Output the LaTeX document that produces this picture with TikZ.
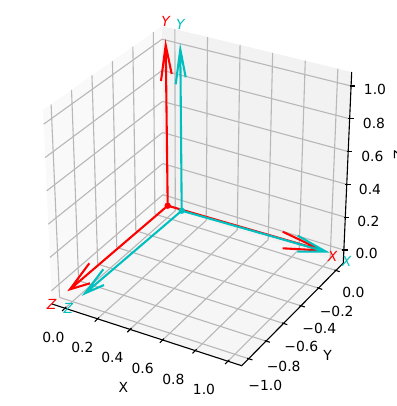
\documentclass[tikz,border=0pt]{standalone}
\usepackage{fontspec}
\setmainfont{DejaVu Sans}
\usetikzlibrary{calc}
\definecolor{mplred}{rgb}{1,0,0}
\definecolor{mplcyan}{rgb}{0,0.75,0.75}
\definecolor{gridgray}{HTML}{B8B8B8}
\definecolor{panex}{rgb}{0.975,0.975,0.975}
\definecolor{paney}{rgb}{0.95,0.95,0.95}
\definecolor{panez}{rgb}{0.9625,0.9625,0.9625}

\begin{document}
\begin{tikzpicture}[
    x=0.72pt, y=-0.72pt,
    gridline/.style={draw=gridgray, line width=0.8pt},
    axline/.style={draw=black, line width=0.8pt},
    ticklab/.style={font=\fontsize{10}{12}\selectfont, inner sep=0pt},
    framelab/.style={font=\fontsize{10}{12}\selectfont\itshape, inner sep=0pt},
    quiv/.style={line width=1.5pt}
  ]
  \useasboundingbox (0,0) rectangle (396,406);

  % Box corners (bottom and top).
  \coordinate (L) at (52,304);
  \coordinate (F) at (241.7,365.7);
  \coordinate (R) at (343.3,263);
  \coordinate (B) at (163,207);
  \coordinate (Lt) at (43,110);
  \coordinate (Bt) at (162,26);
  \coordinate (Rt) at (351.7,72);

  % Panes.
  \fill[panex] (L) -- (B) -- (Bt) -- (Lt) -- cycle;
  \fill[paney] (B) -- (R) -- (Rt) -- (Bt) -- cycle;
  \fill[panez] (L) -- (F) -- (R) -- (B) -- cycle;

  % Grid lines at the ticks.
  \foreach \s in {0.068,0.2398,0.4116,0.5834,0.7552,0.927} {
    \draw[gridline] ($(L)!\s!(B)$) -- ($(Lt)!\s!(Bt)$);
    \draw[gridline] ($(L)!\s!(Lt)$) -- ($(B)!\s!(Bt)$);
    \draw[gridline] ($(B)!\s!(R)$) -- ($(Bt)!\s!(Rt)$);
    \draw[gridline] ($(B)!\s!(Bt)$) -- ($(R)!\s!(Rt)$);
    \draw[gridline] ($(L)!\s!(F)$) -- ($(B)!\s!(R)$);
    \draw[gridline] ($(L)!\s!(B)$) -- ($(F)!\s!(R)$);
  }

  % Axis lines and tick marks.
  \draw[axline] (L) -- (F) -- (R) -- (Rt);
  \foreach \s in {0.068,0.2398,0.4116,0.5834,0.7552,0.927} {
    \draw[axline] ($(L)!\s!(F)$) ++(1.4,-1.4) -- ++(-4.2,4.2);
    \draw[axline] ($(F)!\s!(R)$) ++(-1.4,-0.5) -- ++(5.2,1.7);
    \draw[axline] ($(R)!\s!(Rt)$) ++(-1.5,0) -- ++(5.5,0);
  }

  % Tick labels.
  \foreach \t/\px/\py [count=\i] in {0.0/53.3/337.7, 0.2/82.3/347.7,
      0.4/112.3/357.7, 0.6/142.7/368.3, 0.8/173.3/379, 1.0/204/389.5}
    \node[ticklab] (xt\i) at (\px,\py) {\t};
  \foreach \t/\px/\py [count=\i] in {0.0/353.3/292.7, −0.2/336.7/311,
      −0.4/319.3/328.3, −0.6/301.3/346.7, −0.8/283.7/366.7, −1.0/265.3/385}
    \node[ticklab] (yt\i) at (\px,\py) {\t};
  \foreach \t/\px/\py [count=\i] in {0.0/366.7/253.3, 0.2/368.3/221.7,
      0.4/370/189.3, 0.6/372.3/156.7, 0.8/374/123.3, 1.0/375/89.3}
    \node[ticklab] (zt\i) at (\px,\py) {\t};

  % Axis labels.
  \node[ticklab] (xlab) at (123.3,387.7) {X};
  \node[ticklab] (ylab) at (327.7,355) {Y};
  \node[ticklab,rotate=90] (zlab) at (399,155) {Z};

  % Helper macro: shaft and open head of one arrow.
  \def\qv#1#2#3#4{ \draw[quiv] (#1) -- (#2) (#3) -- (#2) -- (#4); }

  % Red frame.
  \coordinate (ro) at (167.7,205.7);
  \coordinate (rx) at (322.5,250.5);
  \coordinate (ry) at (165.7,45);
  \coordinate (rz) at (70,289.3);
  \begin{scope}[mplred]
    \qv{ro}{rx}{282.7,231.7}{282.7,248.3}
    \qv{ro}{ry}{161,81}{171.7,74}
    \qv{ro}{rz}{89.3,263.3}{90,283.3}
    \fill (ro) circle[radius=2.3pt];
    \node[framelab,text=mplred] (rxl) at (332.7,256) {X};
    \node[framelab,text=mplred] (ryl) at (165.7,21.7) {Y};
    \node[framelab,text=mplred] (rzl) at (51.7,304) {Z};
  \end{scope}

  % Cyan frame.
  \coordinate (co) at (181.7,210.7);
  \coordinate (cx) at (326,251.7);
  \coordinate (cy) at (180.3,49.3);
  \coordinate (cz) at (85,293.3);
  \begin{scope}[mplcyan]
    \qv{co}{cx}{297.7,235.7}{297.3,251.7}
    \qv{co}{cy}{175.7,84.3}{185.7,77.3}
    \qv{co}{cz}{103.3,269.3}{104,285}
    \fill (co) circle[radius=2.3pt];
    \node[framelab,text=mplcyan] (cxl) at (346.7,261) {X};
    \node[framelab,text=mplcyan] (cyl) at (180.3,24.3) {Y};
    \node[framelab,text=mplcyan] (czl) at (68.3,308.3) {Z};
  \end{scope}
\end{tikzpicture}
\end{document}
